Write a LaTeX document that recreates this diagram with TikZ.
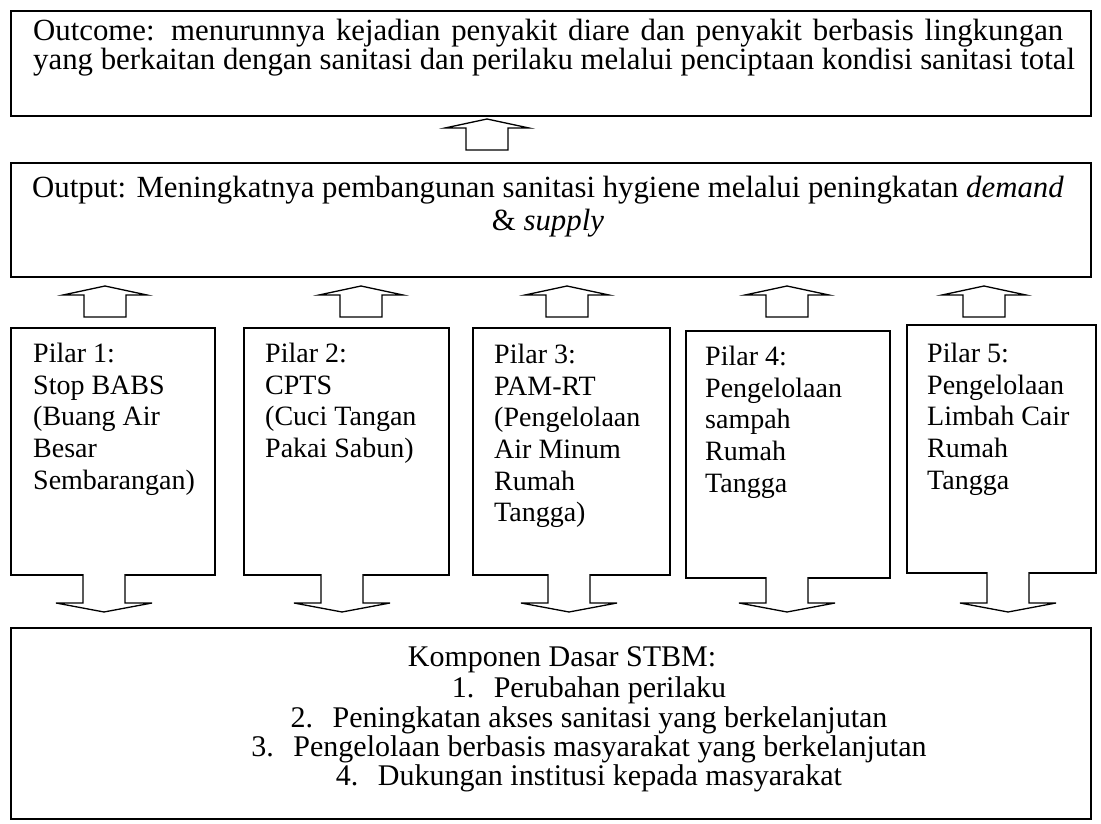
\documentclass[tikz,border=0pt]{standalone}
\usepackage{fontspec}
\setmainfont{Liberation Serif}
\begin{document}
\begin{tikzpicture}[x=1pt,y=-1pt,
  box/.style={draw,line width=1.6pt,inner sep=0pt,anchor=north west},
  top/.style={anchor=base,inner sep=0pt,font=\fontsize{30.8}{30}\selectfont},
  topl/.style={anchor=base west,inner sep=0pt,font=\fontsize{30.8}{30}\selectfont},
  bot/.style={anchor=base,inner sep=0pt,font=\fontsize{30}{30}\selectfont},
  pil/.style={anchor=north west,inner sep=0pt,align=left,font=\fontsize{28}{31.6}\selectfont},
  barrow/.style={draw,line width=1.3pt,fill=white,line join=miter}]
\useasboundingbox (0,0) rectangle (1101,824);
% boxes
\node[box,minimum width=1080pt,minimum height=105pt] (outcome) at (10,10) {};
\node[box,minimum width=1080pt,minimum height=114pt] (output) at (10,162) {};
\node[box,minimum width=204pt,minimum height=247pt] (p1) at (10,327) {};
\node[box,minimum width=205pt,minimum height=247pt] (p2) at (243,327) {};
\node[box,minimum width=197pt,minimum height=247pt] (p3) at (472,327) {};
\node[box,minimum width=204pt,minimum height=247pt] (p4) at (685,330) {};
\node[box,minimum width=189pt,minimum height=248pt] (p5) at (906,324) {};
\node[box,minimum width=1080pt,minimum height=191pt] (dasar) at (10,627) {};
% outcome text
\node[topl] (oc1) at (33,41) {\makebox[1030pt][s]{Outcome: menurunnya kejadian penyakit diare dan penyakit berbasis lingkungan}};
\node[topl] (oc2) at (33,70) {yang berkaitan dengan sanitasi dan perilaku melalui penciptaan kondisi sanitasi total};
% output text
\node[top] (op1) at (548,197) {Output: Meningkatnya pembangunan sanitasi hygiene melalui peningkatan \textit{demand}};
\node[top] (op2) at (548,230) {\& \textit{supply}};
% pilar texts
\node[pil] (t1) at (33,343) {Pilar 1:\\Stop BABS\\(Buang Air\\Besar\\Sembarangan)};
\node[pil] (t2) at (265,343) {Pilar 2:\\CPTS\\(Cuci Tangan\\Pakai Sabun)};
\node[pil] (t3) at (494,344) {Pilar 3:\\PAM-RT\\(Pengelolaan\\Air Minum\\Rumah\\Tangga)};
\node[pil] (t4) at (705,346) {Pilar 4:\\Pengelolaan\\sampah\\Rumah\\Tangga};
\node[pil] (t5) at (927,343) {Pilar 5:\\Pengelolaan\\Limbah Cair\\Rumah\\Tangga};
% komponen dasar
\node[bot] (kd) at (562,666) {Komponen Dasar STBM:};
\node[bot] (l1) at (589,697) {\makebox[42pt][l]{1.}Perubahan perilaku};
\node[bot] (l2) at (589,727) {\makebox[42pt][l]{2.}Peningkatan akses sanitasi yang berkelanjutan};
\node[bot] (l3) at (589,756) {\makebox[42pt][l]{3.}Pengelolaan berbasis masyarakat yang berkelanjutan};
\node[bot] (l4) at (589,785) {\makebox[42pt][l]{4.}Dukungan institusi kepada masyarakat};
% block arrows up: center, tip y, bottom y
\foreach \c/\t/\b in {487/119/150, 105/286/317, 361/286/317, 567/286/317, 787/286/317, 984/286/317}{
  \draw[barrow] (\c,\t) -- (\c+42,\t+9) -- (\c+21,\t+9) -- (\c+21,\b) -- (\c-21,\b) -- (\c-21,\t+9) -- (\c-42,\t+9) -- cycle;
}
% block arrows down: center, top y
\foreach \c/\t in {104/574, 342/574, 569/574, 787/577, 1008/572}{
  \draw[barrow] (\c-21,\t) -- (\c-21,603) -- (\c-48,603) -- (\c,612) -- (\c+48,603) -- (\c+21,603) -- (\c+21,\t);
}
\end{tikzpicture}
\end{document}
